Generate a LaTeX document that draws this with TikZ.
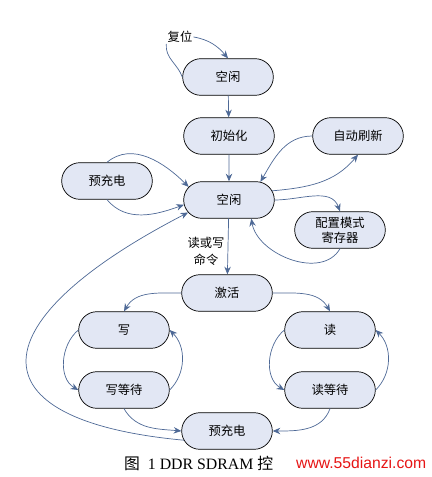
\documentclass[tikz,border=0pt]{standalone}
\usepackage{fontspec}
\setmainfont{Liberation Serif}
\newfontfamily\cjk{Noto Sans CJK SC}
\newfontfamily\wmfont{Liberation Sans}
\usetikzlibrary{shapes.misc,arrows.meta}
\definecolor{statefill}{RGB}{226,231,244}
\definecolor{linkblue}{RGB}{78,105,150}
\definecolor{wmred}{RGB}{230,20,20}

\begin{document}
\begin{tikzpicture}[x=0.03cm,y=-0.03cm,line cap=round,line join=round,
  state/.style={rounded rectangle,draw,line width=0.6pt,fill=statefill,
    minimum width=2.79cm,minimum height=1.1cm,inner sep=1pt,
    font=\cjk\fontsize{10.5}{14}\selectfont},
  tag/.style={font=\cjk\fontsize{10.5}{14.5}\selectfont,inner sep=1pt,align=center},
  link/.style={draw=linkblue,line width=0.6pt,-{Stealth[length=6.5pt,width=5.5pt]}}]
  \useasboundingbox (0,0) rectangle (432,477);
  % states
  \node[state] (idleA) at (228,77) {空闲};
  \node[state] (init) at (229,136) {初始化};
  \node[state] (idle) at (229,200) {空闲};
  \node[state] (prechA) at (107,181) {预充电};
  \node[state] (aref) at (358,136) {自动刷新};
  \node[state,align=center] (mrs) at (340,230) {配置模式\\[-1pt]寄存器};
  \node[state] (act) at (227,293) {激活};
  \node[state] (wr) at (124,330) {写};
  \node[state] (wrw) at (124,390) {写等待};
  \node[state] (rd) at (330,330) {读};
  \node[state] (rdw) at (330,390) {读等待};
  \node[state] (prechB) at (227,431) {预充电};
  % labels
  \node[tag] (rst) at (180,37) {复位};
  \node[tag] (rwcmd) at (206,251) {读或写\\命令};
  \node[anchor=west,inner sep=0pt,font=\fontsize{13.5}{15}\selectfont] (cap) at (124,463)
    {{\cjk 图}\hspace{0.5em}1 DDR SDRAM {\cjk 控}};
  \node[anchor=west,inner sep=0pt,text=wmred,font=\wmfont\fontsize{13.4}{15}\selectfont] (wm) at (296,463)
    {www.55dianzi.com};
  % transitions
  \draw[link] (rst.east) to[out=-10,in=130] (idleA.north);
  \draw[draw=linkblue,line width=0.6pt] (rst.south west) to[out=-95,in=110] (idleA.west);
  \draw[link] (idleA) -- (init);
  \draw[link] (init) -- (idle);
  \draw[link] (idle) -- (act);
  \draw[link] (prechA.north) to[out=40,in=135] (idle.162);
  \draw[link] (prechA.south) to[out=-50,in=200] (idle.186);
  \draw[link] (idle.12) to[out=5,in=-130] (aref.south);
  \draw[link] (aref.west) to[out=180,in=60] (idle.30);
  \draw[link] (idle.east) to[out=0,in=110] (mrs.north);
  \draw[link] (mrs.south) to[out=-120,in=-80] (idle.-40);
  \draw[link] (act.west) to[out=180,in=60] (wr.north);
  \draw[link] (act.east) to[out=0,in=120] (rd.north);
  \draw[link] (wr.west) to[out=220,in=150] (wrw.west);
  \draw[link] (wrw.east) to[out=45,in=-45] (wr.east);
  \draw[link] (rd.west) to[out=220,in=150] (rdw.west);
  \draw[link] (rdw.east) to[out=45,in=-45] (rd.east);
  \draw[link] (wrw.south) to[out=-60,in=175] (prechB.west);
  \draw[link] (rdw.south) to[out=-110,in=0] (prechB.east);
  \draw[link] (prechB.192) .. controls (-33,420) and (-20,320) .. (idle.197);
\end{tikzpicture}
\end{document}
